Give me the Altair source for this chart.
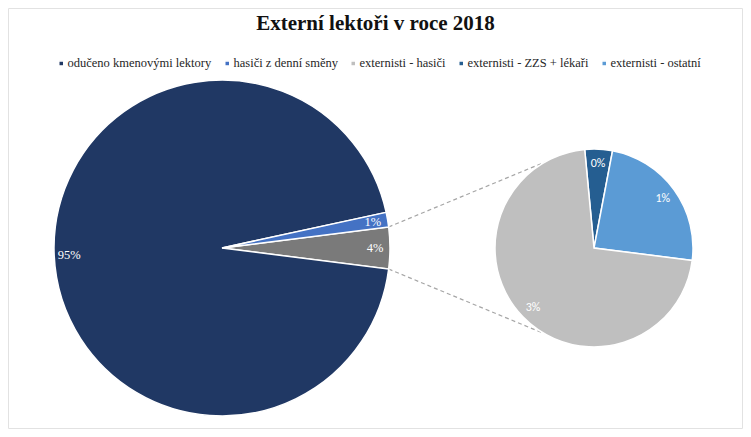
import math
import altair as alt
import pandas as pd

# ---- data ----
categories = ["odučeno kmenovými lektory", "hasiči z denní směny",
              "externisti - hasiči", "externisti - ZZS + lékaři", "externisti - ostatní"]
values = [94.6, 1.4, 2.86, 0.18, 0.96]
colors = ["#203864", "#4472C4", "#BFBFBF", "#255E91", "#5B9BD5"]
secondary = ["externisti - hasiči", "externisti - ZZS + lékaři", "externisti - ostatní"]
sub_order = ["externisti - ZZS + lékaři", "externisti - ostatní", "externisti - hasiči"]
composite_label = "externisti"
composite_color = "#7A7A7A"
title_text = "Externí lektoři v roce 2018"

SERIF = "Times New Roman, Liberation Serif, serif"
SANS = "Carlito, Liberation Sans, sans-serif"

# ---- layout ----
W, H, TOP = 735, 351, 70
MCX, MCY, MR = 214, 170, 168
SCX, SCY, SR = 586, 170, 99
sub_start_deg = -5.4
conn_deg = 30

val = dict(zip(categories, values))
total = sum(values)
comp = sum(val[c] for c in secondary)

main_rows = [
    {"cat": composite_label, "v": comp, "ord": 0},
    {"cat": categories[0], "v": val[categories[0]], "ord": 1},
    {"cat": categories[1], "v": val[categories[1]], "ord": 2},
]
for r in main_rows:
    r["label"] = f"{round(100 * r['v'] / total)}%"
main_df = pd.DataFrame(main_rows)

sub_rows = [{"cat": c, "v": val[c], "ord": i, "label": f"{round(100 * val[c] / total)}%"}
            for i, c in enumerate(sub_order)]
sub_df = pd.DataFrame(sub_rows)

half = comp / total * math.pi
main_start = math.pi / 2 - half
sub_start = math.radians(sub_start_deg)

# connector lines from composite slice edges to the secondary pie
a_top, a_bot = math.pi / 2 - half, math.pi / 2 + half
s_top, s_bot = math.radians(-conn_deg), math.radians(180 + conn_deg)
lines_df = pd.DataFrame([
    {"x": MCX + MR * math.sin(a_top), "y": MCY - MR * math.cos(a_top),
     "x2": SCX + SR * math.sin(s_top), "y2": SCY - SR * math.cos(s_top)},
    {"x": MCX + MR * math.sin(a_bot), "y": MCY - MR * math.cos(a_bot),
     "x2": SCX + SR * math.sin(s_bot), "y2": SCY - SR * math.cos(s_bot)},
])
frame_df = pd.DataFrame([{"x": 0.5, "x2": W - 0.5, "y": -TOP + 0.5, "y2": H - 0.5}])

xs = alt.Scale(domain=[0, W], range=[0, W], nice=False, zero=False)
ys = alt.Scale(domain=[0, H], range=[0, H], nice=False, zero=False)

color_scale = alt.Scale(domain=categories, range=colors)
legend = alt.Legend(title=None, orient="none", legendX=47, legendY=-21,
                    direction="horizontal", columns=5, symbolType="square",
                    symbolSize=25, labelFont=SERIF, labelFontSize=12.5,
                    labelColor="#262626", columnPadding=9, labelOffset=0,
                    labelLimit=400, padding=0)

main_theta = alt.Theta("v:Q", stack=True,
                       scale=alt.Scale(range=[main_start, main_start + 2 * math.pi]))
sub_theta = alt.Theta("v:Q", stack=True,
                      scale=alt.Scale(range=[sub_start, sub_start + 2 * math.pi]))

frame = alt.Chart(frame_df).mark_rect(fill=None, stroke="#E2E2E2", strokeWidth=1).encode(
    x=alt.X("x:Q", scale=xs, axis=None), x2="x2:Q",
    y=alt.Y("y:Q", scale=ys, axis=None), y2="y2:Q",
)
main_arc = alt.Chart(main_df).mark_arc(radius=MR, stroke="white", strokeWidth=1.5).encode(
    theta=main_theta,
    order=alt.Order("ord:Q"),
    color=alt.condition(f"datum.cat === '{composite_label}'", alt.value(composite_color),
                        alt.Color("cat:N", scale=color_scale, legend=legend)),
    x=alt.value(MCX), y=alt.value(MCY),
)
main_text = alt.Chart(main_df).mark_text(radius=MR - 15, font=SERIF,
                                         fontSize=12.5, color="white").encode(
    theta=main_theta, order=alt.Order("ord:Q"), text="label:N",
    x=alt.value(MCX), y=alt.value(MCY),
)
sub_arc = alt.Chart(sub_df).mark_arc(radius=SR, stroke="white", strokeWidth=1.5).encode(
    theta=sub_theta,
    order=alt.Order("ord:Q"),
    color=alt.Color("cat:N", scale=color_scale, legend=legend),
    x=alt.value(SCX), y=alt.value(SCY),
)
sub_text = alt.Chart(sub_df).mark_text(radius=SR - 14, font=SANS,
                                       fontSize=12, color="white").encode(
    theta=sub_theta, order=alt.Order("ord:Q"), text="label:N",
    x=alt.value(SCX), y=alt.value(SCY),
)
lines = alt.Chart(lines_df).mark_rule(color="#A6A6A6", strokeWidth=1.2,
                                      strokeDash=[4, 3]).encode(
    x=alt.X("x:Q", scale=xs, axis=None),
    y=alt.Y("y:Q", scale=ys, axis=None),
    x2="x2:Q", y2="y2:Q",
)

chart = alt.layer(frame, lines, main_arc, main_text, sub_arc, sub_text).resolve_scale(
    theta="independent"
).properties(
    width=W, height=H,
    padding={"top": TOP, "left": 0, "right": 0, "bottom": 0},
    autosize=alt.AutoSizeParams(type="none"),
    title=alt.Title(title_text, font=SERIF, fontSize=21, fontWeight="bold",
                    color="#111111", anchor="middle", offset=-26),
    background="white",
).configure_view(stroke=None)

chart.save("out.html", embed_options={"renderer": "svg", "actions": False})
